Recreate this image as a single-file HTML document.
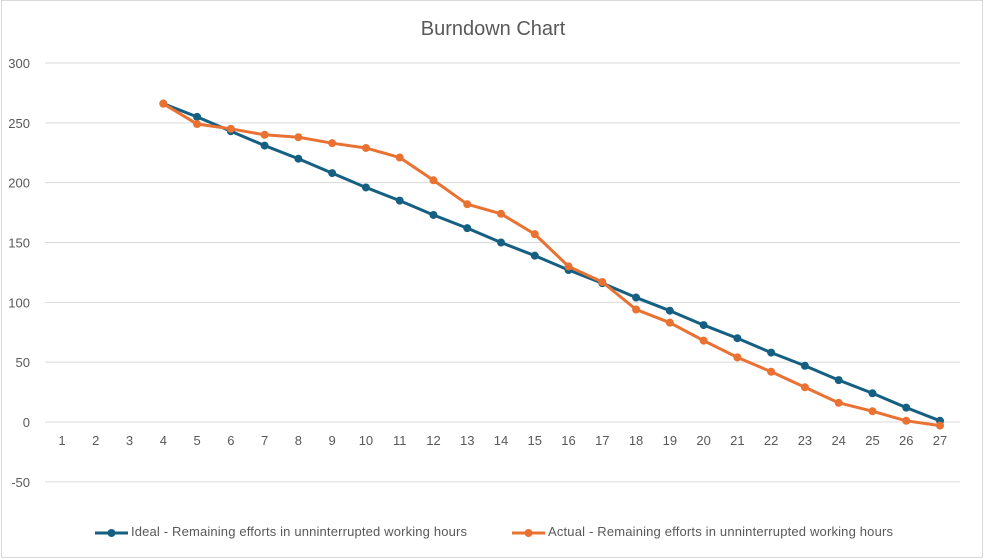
<!DOCTYPE html>
<html><head><meta charset="utf-8"><style>
body{margin:0;background:#fff;font-family:"Liberation Sans",sans-serif}
svg{display:block}
</style></head><body>
<svg id="chart" width="984" height="559" xmlns="http://www.w3.org/2000/svg">
<rect x="1.5" y="0.5" width="981" height="557" fill="#fff" stroke="#d9d9d9"/>
<text x="493" y="35" text-anchor="middle" font-size="20" fill="#595959">Burndown Chart</text>
<g id="grid"></g><g id="series"></g>
<g>
<g>
<line x1="95" y1="533" x2="128" y2="533" stroke="#156082" stroke-width="3"/><circle cx="111.5" cy="533" r="4" fill="#156082"/>
<text x="131" y="536" font-size="13" textLength="336" fill="#595959">Ideal - Remaining efforts in unninterrupted working hours</text></g>
<g>
<line x1="512" y1="533" x2="545" y2="533" stroke="#e97132" stroke-width="3"/><circle cx="528.5" cy="533" r="4" fill="#e97132"/>
<text x="548" y="536" font-size="13" textLength="345" fill="#595959">Actual - Remaining efforts in unninterrupted working hours</text></g>
</g>
</svg>
<script>
const categories=[1,2,3,4,5,6,7,8,9,10,11,12,13,14,15,16,17,18,19,20,21,22,23,24,25,26,27];
const ideal=[null,null,null,266,255,243,231,220,208,196,185,173,162,150,139,127,116,104,93,81,70,58,47,35,24,12,1];
const actual=[null,null,null,266,249,245,240,238,233,229,221,202,182,174,157,130,117,94,83,68,54,42,29,16,9,1,-3];
const yTicks=[300,250,200,150,100,50,0,-50];
const NS="http://www.w3.org/2000/svg";
const y=v=>422-v*(359/300);
const x=i=>62+i*(878/26);
const grid=document.getElementById('grid'),ser=document.getElementById('series');
function mk(tag,attrs,parent){const e=document.createElementNS(NS,tag);for(const k in attrs)e.setAttribute(k,attrs[k]);parent.appendChild(e);return e;}
yTicks.forEach(t=>{
 const l=mk('line',{x1:45,x2:960,y1:y(t),y2:y(t),stroke:'#d9d9d9','stroke-width':1},grid);
 
 
 const tx=mk('text',{x:30,y:y(t)+5,'text-anchor':'end','font-size':13,fill:'#595959'},grid);
 tx.textContent=t;
 
 
});
categories.forEach((c,i)=>{
 const tx=mk('text',{x:x(i),y:445,'text-anchor':'middle','font-size':13,fill:'#595959'},grid);
 tx.textContent=c;
 
 
});
function draw(vals,color,name){
 const pts=[];vals.forEach((v,i)=>{if(v!==null)pts.push([x(i),y(v)]);});
 const p=mk('polyline',{points:pts.map(p=>p.join(',')).join(' '),fill:'none',stroke:color,'stroke-width':3,'stroke-linejoin':'round'},ser);
 
 
 pts.forEach(q=>{const c=mk('circle',{cx:q[0],cy:q[1],r:4,fill:color},ser);
 
 });
}
draw(ideal,'#156082','ideal');
draw(actual,'#e97132','actual');
</script>
</body></html>
